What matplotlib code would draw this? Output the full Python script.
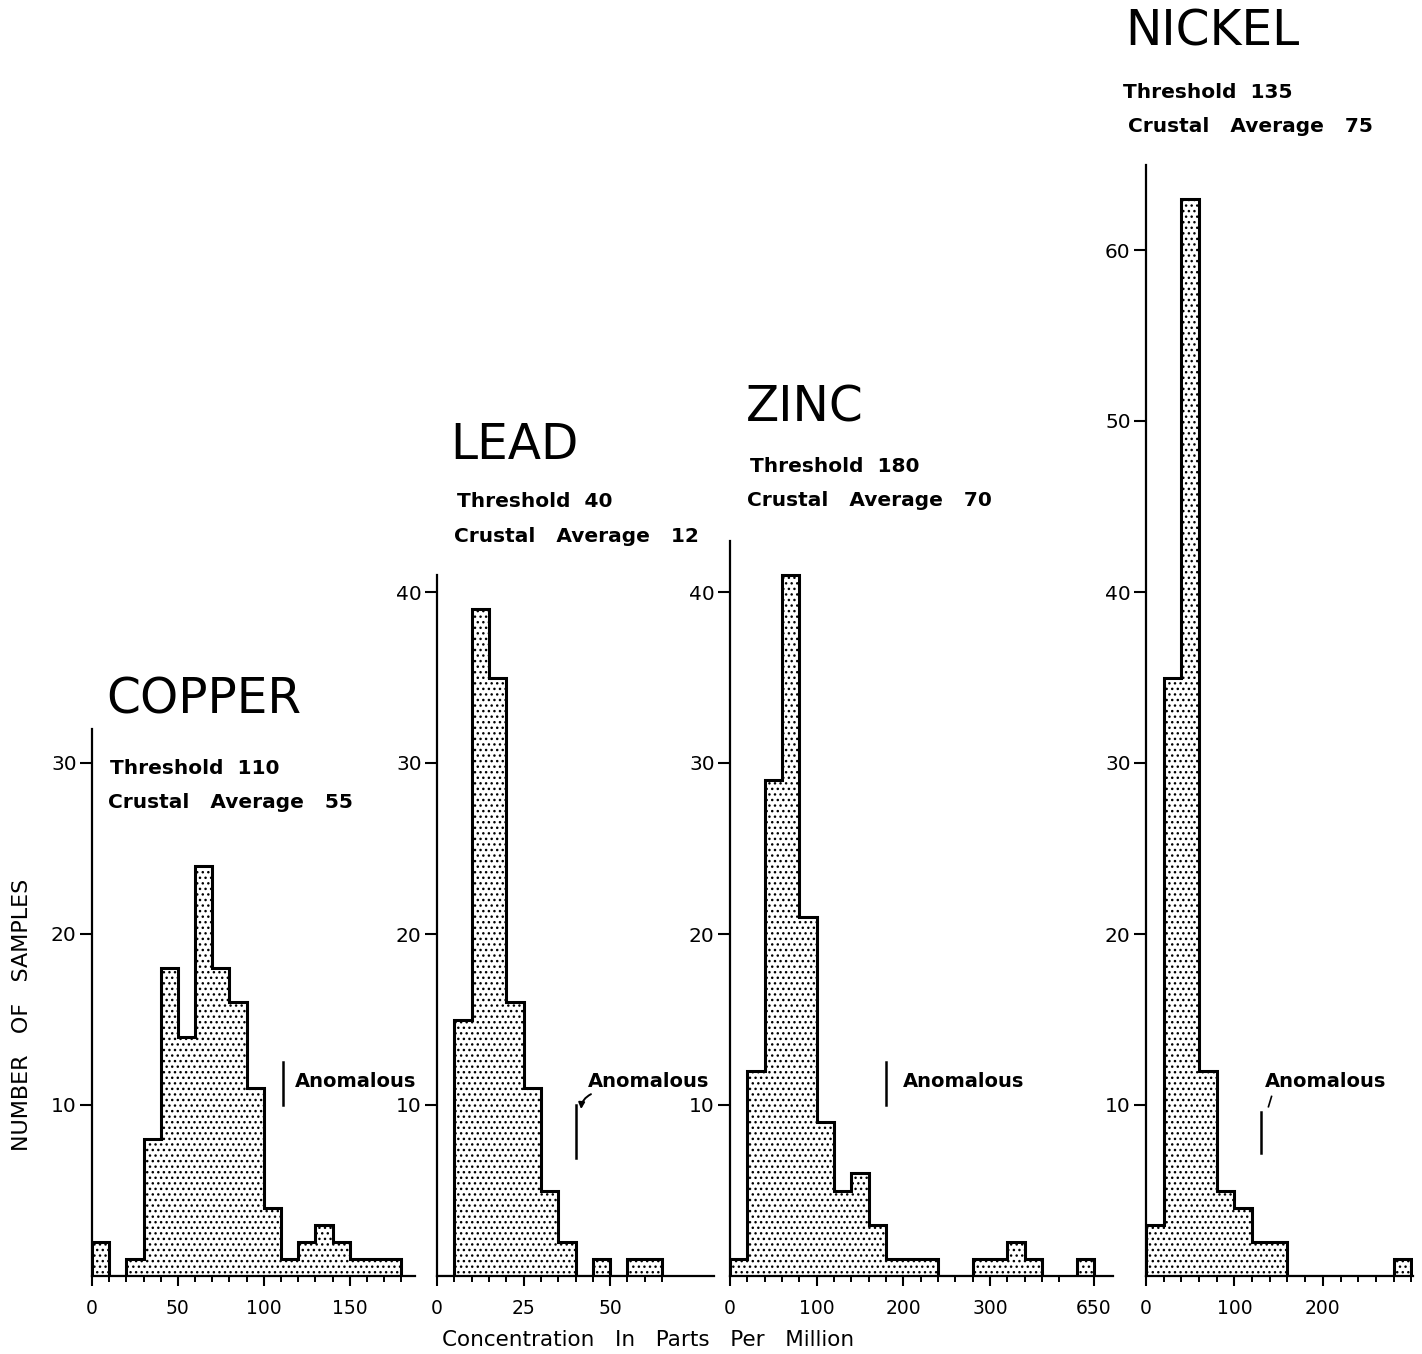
import matplotlib
matplotlib.use('Agg')
import matplotlib.pyplot as plt
import numpy as np

plt.rcParams['font.family'] = ['DejaVu Sans']
plt.rcParams['hatch.linewidth'] = 1.0

# ---------------- data ----------------
copper_edges = np.arange(0, 181, 10)
copper_counts = [2, 0, 1, 8, 18, 14, 24, 18, 16, 11, 4, 1, 2, 3, 2, 1, 1, 1]

lead_edges = np.arange(0, 66, 5)
lead_counts = [0, 15, 39, 35, 16, 11, 5, 2, 0, 1, 0, 1, 1]

zinc_edges = np.arange(0, 361, 20)
zinc_counts = [1, 12, 29, 41, 21, 9, 5, 6, 3, 1, 1, 1, 0, 0, 1, 1, 2, 1]
zinc_outlier_range = [630, 650]
zinc_outlier_count = [1]

nickel_edges = np.arange(0, 301, 20)
nickel_counts = [3, 35, 63, 12, 5, 4, 2, 2, 0, 0, 0, 0, 0, 0, 1]

names = ['COPPER', 'LEAD', 'ZINC', 'NICKEL']
thresholds = [110, 40, 180, 135]
crustal_avg = [55, 12, 70, 75]

copper_xticks = [0, 50, 100, 150]
lead_xticks = [0, 25, 50]
zinc_xtick_labels = ['0', '100', '200', '300', '650']
nickel_xticks = [0, 100, 200]

# ---------------- layout ----------------
W, H = 1422, 1354
fig = plt.figure(figsize=(W / 100, H / 100), dpi=100)
BASE = 1276


def ax_px(l, r, b, t):
    return fig.add_axes([l / W, 1 - b / H, (r - l) / W, (b - t) / H])


def style(ax, xlim, ylim, yticks, major, minor, labels=None):
    ax.set_facecolor('none')
    ax.set_xlim(*xlim)
    ax.set_ylim(*ylim)
    for s in ['top', 'right']:
        ax.spines[s].set_visible(False)
    for s in ['left', 'bottom']:
        ax.spines[s].set_linewidth(1.6)
    ax.set_yticks(yticks)
    ax.set_xticks(major)
    if labels is not None:
        ax.set_xticklabels(labels)
    ax.set_xticks(minor, minor=True)
    ax.tick_params(axis='x', which='major', direction='out', length=7.5, width=1.5,
                   labelsize=13.5, pad=9)
    ax.tick_params(axis='x', which='minor', direction='out', length=4.5, width=1.4)
    ax.tick_params(axis='y', which='major', direction='out', length=9, width=1.5,
                   labelsize=14.5, pad=2)


def draw_hist(ax, edges, counts):
    ax.stairs(counts, edges, fill=True, facecolor='white', edgecolor='black',
              hatch='...', linewidth=0)
    ax.stairs(counts, edges, fill=False, color='black', linewidth=2.2)


def anomalous(ax, x, y0, y1, tx, ty):
    ax.plot([x, x], [y0, y1], color='black', lw=1.8)
    ax.text(tx, ty, 'Anomalous', fontsize=14, fontweight='semibold', ha='left',
            va='center')


# COPPER
ax1 = ax_px(92, 415, BASE, BASE - 32 * 17.1)
draw_hist(ax1, copper_edges, copper_counts)
style(ax1, (0, 188), (0, 32), [10, 20, 30], copper_xticks, np.arange(0, 181, 10))
anomalous(ax1, thresholds[0] + 1, 10, 12.5, 118, 11.4)

# LEAD
ax2 = ax_px(437, 714, BASE, BASE - 41 * 17.1)
draw_hist(ax2, lead_edges, lead_counts)
style(ax2, (0, 80), (0, 41), [10, 20, 30, 40], lead_xticks, np.arange(0, 66, 5))
anomalous(ax2, thresholds[1], 6.9, 10, 43.7, 11.4)
ax2.annotate('', xy=(41.6, 9.6), xytext=(45.2, 10.7),
             arrowprops=dict(arrowstyle='-|>', connectionstyle='arc3,rad=0.35',
                             lw=1.4, color='black', mutation_scale=9))

# ZINC (broken axis: the 630-650 bin is shown at position 400-420)
ax3 = ax_px(730, 1113, BASE, BASE - 43 * 17.1)
draw_hist(ax3, zinc_edges, zinc_counts)
zinc_shift = 230
draw_hist(ax3, np.array(zinc_outlier_range) - zinc_shift, zinc_outlier_count)
zinc_tick_pos = [0, 100, 200, 300, zinc_outlier_range[1] - zinc_shift]
style(ax3, (0, 442), (0, 43), [10, 20, 30, 40], zinc_tick_pos,
      np.arange(0, 381, 20), zinc_xtick_labels)
anomalous(ax3, thresholds[2], 10, 12.5, 199, 11.4)

# NICKEL
ax4 = ax_px(1146, 1413, BASE, BASE - 65 * 17.1)
draw_hist(ax4, nickel_edges, nickel_counts)
style(ax4, (0, 302), (0, 65), [10, 20, 30, 40, 50, 60], nickel_xticks,
      np.arange(0, 301, 20))
anomalous(ax4, thresholds[3] - 5, 7.2, 9.6, 135, 11.4)
ax4.plot([138.5, 142], [9.9, 10.5], color='black', lw=1.2)

# ---------------- titles / notes ----------------
title_pos = [(106, 700), (450, 445), (746, 408), (1125, 32)]
note_pos = [(110, 768, 108, 803), (457, 502, 454, 537),
            (750, 466, 747, 501), (1123, 93, 1128, 126)]
for name, thr, ca, (tx, ty), (ax_, ay_, bx_, by_) in zip(names, thresholds, crustal_avg,
                                                          title_pos, note_pos):
    fig.text(tx / W, 1 - ty / H, name, fontsize=35, ha='left', va='center')
    fig.text(ax_ / W, 1 - ay_ / H, f'Threshold  {thr}', fontsize=14.5,
             fontweight='semibold', ha='left', va='center')
    fig.text(bx_ / W, 1 - by_ / H, f'Crustal   Average   {ca}', fontsize=14.5,
             fontweight='semibold', ha='left', va='center')

fig.text(22 / W, 1 - 1015 / H, 'NUMBER   OF   SAMPLES', rotation=90, fontsize=16,
         ha='center', va='center')
fig.text(648 / W, 1 - 1340 / H, 'Concentration   In   Parts   Per   Million',
         fontsize=15.5, ha='center', va='center')

fig.savefig('out.png', dpi=100, facecolor='white')
